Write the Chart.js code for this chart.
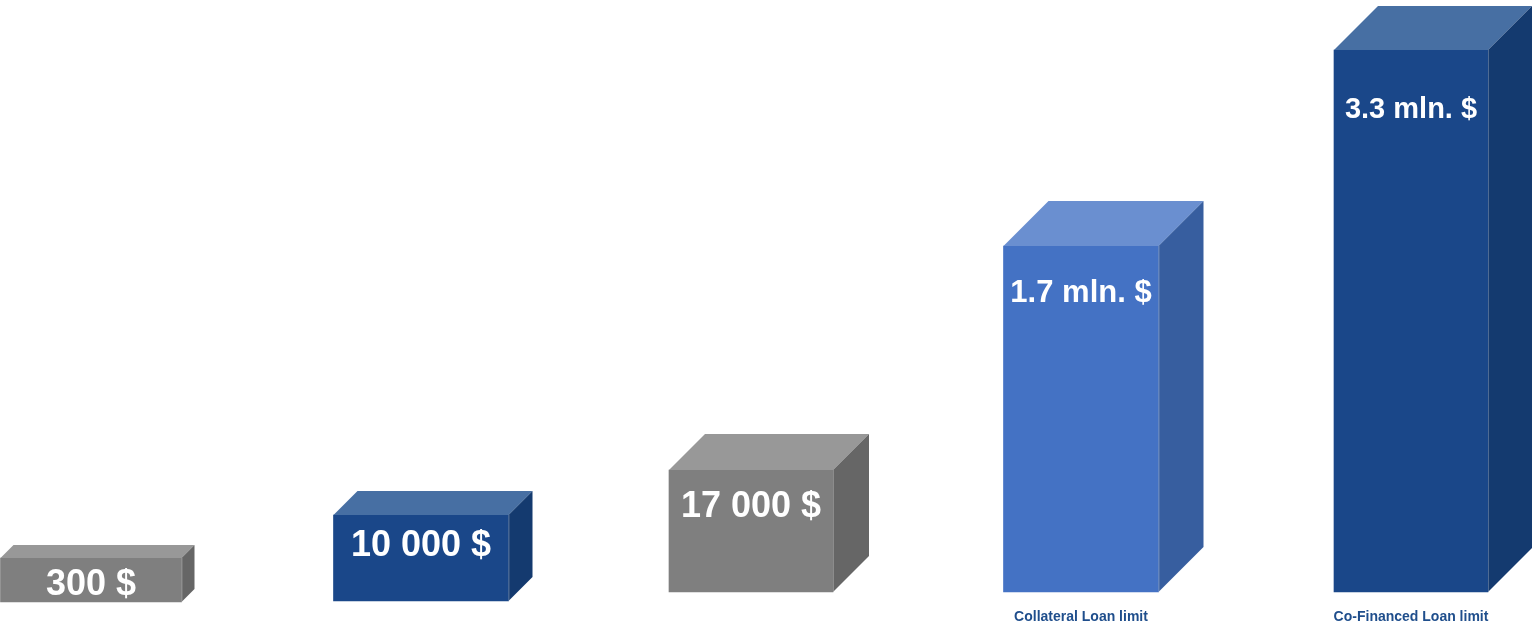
<!DOCTYPE html>
<html>
<head>
<meta charset="utf-8">
<script src="https://cdn.jsdelivr.net/npm/chart.js@4"></script>
<style>
  html, body { margin: 0; padding: 0; background: #ffffff; }
  #wrap { width: 1537px; height: 625px; position: relative; }
</style>
</head>
<body>
<div id="wrap"><canvas id="limitsChart"></canvas></div>
<script>
// Data (bar heights are schematic in chart units)
const categories = ['', '', '', 'Collateral Loan limit', 'Co-Financed Loan limit'];
const amountLabels = ['300 $', '10 000 $', '17 000 $', '1.7 mln. $', '3.3 mln. $'];
const barBase = [3, 4, 13, 13, 13];
const barTop = [47, 90, 135, 359, 555];

// Styles
const palette = [
    { front: '#7f7f7f', top: '#989898', side: '#666666' },
    { front: '#1a4789', top: '#476fa3', side: '#143a6f' },
    { front: '#7f7f7f', top: '#989898', side: '#666666' },
    { front: '#4472c4', top: '#6a8fd0', side: '#375e9f' },
    { front: '#1a4789', top: '#476fa3', side: '#143a6f' }
];
const frontWidth = [181, 175, 164, 155, 154];
const depth = [13, 24, 36, 45, 44];
const labelFont = [36, 36, 36, 31, 29];
const labelDrop = [37, 41, 47, 56, 68];

(function () {
    'use strict';

    // one dataset per bar so every box can keep its own width
    const datasets = categories.map((c, i) => ({
        data: categories.map((_, j) => j === i ? [barBase[i], barTop[i]] : null),
        backgroundColor: palette[i].front,
        borderWidth: 0,
        barThickness: frontWidth[i],
        clip: false
    }));

    // 3D faces + white amount text
    const boxPlugin = {
        id: 'box3d',
        afterDatasetsDraw(chart) {
            const ctx = chart.ctx;
            ctx.save();
            chart.data.datasets.forEach((ds, i) => {
                const meta = chart.getDatasetMeta(i);
                const bar = meta.data[i];
                if (!bar) return;
                const p = bar.getProps(['x', 'y', 'base', 'width'], true);
                const x0 = p.x - p.width / 2;
                const x1 = p.x + p.width / 2;
                const yT = Math.min(p.y, p.base);
                const yB = Math.max(p.y, p.base);
                const d = depth[i];

                // top face
                ctx.fillStyle = palette[i].top;
                ctx.beginPath();
                ctx.moveTo(x0, yT);
                ctx.lineTo(x0 + d, yT - d);
                ctx.lineTo(x1 + d, yT - d);
                ctx.lineTo(x1, yT);
                ctx.closePath();
                ctx.fill();

                // side face
                ctx.fillStyle = palette[i].side;
                ctx.beginPath();
                ctx.moveTo(x1, yT);
                ctx.lineTo(x1 + d, yT - d);
                ctx.lineTo(x1 + d, yB - d);
                ctx.lineTo(x1, yB);
                ctx.closePath();
                ctx.fill();

                // faint edge
                ctx.strokeStyle = 'rgba(255,255,255,0.25)';
                ctx.lineWidth = 1;
                ctx.beginPath();
                ctx.moveTo(x1 + 0.5, yT);
                ctx.lineTo(x1 + 0.5, yB);
                ctx.stroke();

                // amount
                ctx.fillStyle = '#ffffff';
                ctx.font = 'bold ' + labelFont[i] + 'px "Liberation Sans", Arial, sans-serif';
                ctx.textAlign = 'center';
                ctx.textBaseline = 'alphabetic';
                ctx.fillText(amountLabels[i], p.x, yT + labelDrop[i]);
            });
            ctx.restore();
        }
    };

    new Chart(document.getElementById('limitsChart'), {
        type: 'bar',
        data: { labels: categories, datasets: datasets },
        options: {
            responsive: true,
            maintainAspectRatio: false,
            animation: false,
            layout: { padding: { left: 91, right: 126, top: 0, bottom: 0 } },
            plugins: { legend: { display: false }, tooltip: { enabled: false } },
            scales: {
                x: {
                    stacked: true,
                    offset: false,
                    grid: { display: false, drawTicks: false },
                    border: { display: false },
                    ticks: {
                        padding: 4,
                        maxRotation: 0,
                        autoSkip: false,
                        color: '#1f4e8c',
                        font: { family: '"Liberation Sans", Arial, sans-serif', size: 14, weight: 'bold' }
                    },
                    afterFit(scale) { scale.height = 20; }
                },
                y: {
                    display: false,
                    stacked: false,
                    min: 0,
                    max: 605
                }
            }
        },
        plugins: [boxPlugin]
    });
})();
</script>
</body>
</html>
